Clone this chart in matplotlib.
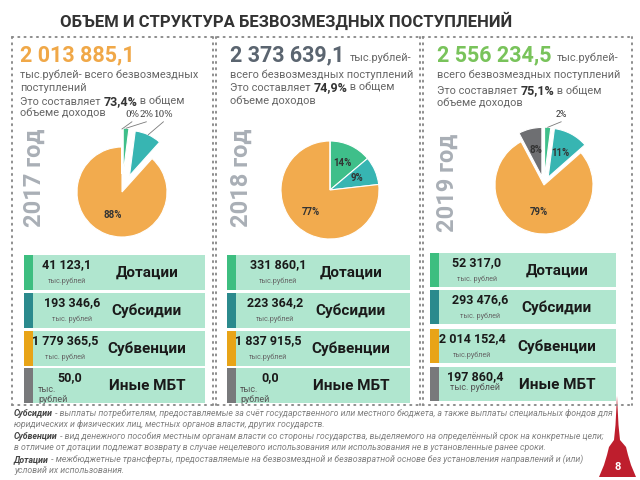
import matplotlib
matplotlib.use('Agg')
import matplotlib.pyplot as plt
from matplotlib.patches import Rectangle, Polygon
import numpy as np

plt.rcParams['font.family'] = ['Roboto', 'DejaVu Sans']

# ---------------- data ----------------
title = 'ОБЪЕМ И СТРУКТУРА БЕЗВОЗМЕЗДНЫХ ПОСТУПЛЕНИЙ'
years = ['2017 год', '2018 год', '2019 год']
totals = [2013885.1, 2373639.1, 2556234.5]
shares = ['73,4%', '74,9%', '75,1%']
categories = ['Дотации', 'Субсидии', 'Субвенции', 'Иные МБТ']
values_2017 = [41123.1, 193346.6, 1779365.5, 50.0]
values_2018 = [331860.1, 223364.2, 1837915.5, 0.0]
values_2019 = [52317.0, 293476.6, 2014152.4, 197860.4]
units_2017 = ['тыс.рублей', 'тыс. рублей', 'тыс. рублей', 'тыс.\nрублей']
units_2018 = ['тыс.рублей', 'тыс.рублей', 'тыс.рублей', 'тыс.\nрублей']
units_2019 = ['тыс. рублей', 'тыс. рублей', 'тыс.рублей', 'тыс. рублей']
notes = [
    [('Субсидии', True), (' - выплаты потребителям, предоставляемые за счёт государственного или местного бюджета, а также выплаты специальных фондов для', False)],
    [('юридических и физических лиц, местных органов власти, других государств.', False)],
    [('Субвенции', True), (' - вид денежного пособия местным органам власти со стороны государства, выделяемого на определённый срок на конкретные цели;', False)],
    [('в отличие от дотации подлежат возврату в случае нецелевого использования или использования не в установленные ранее сроки.', False)],
    [('Дотации', True), (' - межбюджетные трансферты, предоставляемые на безвозмездной и безвозвратной основе без установления направлений и (или)', False)],
    [('условий их использования.', False)],
]
page_number = '8'

# ---------------- styles ----------------
W, H = 640, 480
pie_colors = ['#3FBF8A', '#37B5B2', '#F2AB4E', '#6E6F72']
strip_colors = ['#3DBE80', '#2B8A8D', '#E8A417', '#78797B']
box_color = '#B0E6CF'
total_colors = ['#F0A848', '#5B6570', '#79C35B']
body_color = '#666666'
dot_color = '#8C8C8C'

fig = plt.figure(figsize=(6.4, 4.8), dpi=100)
bg = fig.add_axes([0, 0, 1, 1])
bg.set_xlim(0, W)
bg.set_ylim(H, 0)
bg.axis('off')
renderer = fig.canvas.get_renderer()


def fmt_num(v):
    return f'{v:,.1f}'.replace(',', ' ').replace('.', ',')


def seq_text(x, y, parts, va='baseline', style='normal'):
    out = []
    for s, size, weight, color in parts:
        t = bg.text(x, y, s, fontsize=size, fontweight=weight, color=color,
                    va=va, ha='left', fontstyle=style)
        bb = t.get_window_extent(renderer)
        x += bb.width
        out.append(t)
    return out


# title
bg.text(60, 21, title, fontsize=12, fontweight='bold', color='#333333',
        va='center', ha='left')

# dotted frame
ls = (0, (0.6, 2.6))
dk = dict(color=dot_color, lw=1.4, linestyle=ls, dash_capstyle='round')
bg.plot([12, 632], [37, 37], **dk)
bg.plot([12, 632], [405, 405], **dk)
bg.plot([12, 12], [37, 405], **dk)
bg.plot([632, 632], [37, 405], **dk)
for xd in (213, 216, 420, 423):
    bg.plot([xd, xd], [37, 405], **dk)

# headers
bs = 7.9
big = 15.5
seq_text(20, 61, [(fmt_num(totals[0]), big, 'bold', total_colors[0])])
seq_text(20, 78, [('тыс.рублей- всего безвозмездных', bs, 'normal', body_color)])
seq_text(20, 91, [('поступлений', bs, 'normal', body_color)])
seq_text(20, 105, [('Это составляет ', bs, 'normal', body_color), (shares[0], 9, 'bold', '#333333'),
                   (' в общем', bs, 'normal', body_color)])
seq_text(20, 117, [('объеме доходов', bs, 'normal', body_color)])

seq_text(230, 61, [(fmt_num(totals[1]) + ' ', big, 'bold', total_colors[1]),
                   ('тыс.рублей-', bs, 'normal', body_color)])
seq_text(230, 78, [('всего безвозмездных поступлений', bs, 'normal', body_color)])
seq_text(230, 91, [('Это составляет ', bs, 'normal', body_color), (shares[1], 9, 'bold', '#333333'),
                   (' в общем', bs, 'normal', body_color)])
seq_text(230, 104, [('объеме доходов', bs, 'normal', body_color)])

seq_text(437, 61, [(fmt_num(totals[2]) + ' ', big, 'bold', total_colors[2]),
                   ('тыс.рублей-', bs, 'normal', body_color)])
seq_text(437, 78, [('всего безвозмездных поступлений', bs, 'normal', body_color)])
seq_text(437, 94, [('Это составляет ', bs, 'normal', body_color), (shares[2], 9, 'bold', '#333333'),
                   (' в общем', bs, 'normal', body_color)])
seq_text(437, 107, [('объеме доходов', bs, 'normal', body_color)])

# year labels
for (x, y), yr in zip([(34, 178), (241, 178), (447, 183)], years):
    bg.text(x, y, yr, rotation=90, fontsize=17, fontweight='bold', color='#A9AFB6',
            ha='center', va='center')


# pies
def draw_pie(cx, cy, r, vals, explode, outside, pctd):
    L = 1.9
    ax = fig.add_axes([(cx - L * r) / W, 1 - (cy + L * r) / H, 2 * L * r / W, 2 * L * r / H])
    counter = iter(range(len(vals)))

    def fmt(p):
        i = next(counter)
        if vals[i] == 0 or i in outside:
            return ''
        return f'{p:.0f}%'

    ax.pie(vals, colors=pie_colors, explode=explode, startangle=90,
           counterclock=False, autopct=fmt, pctdistance=pctd,
           wedgeprops=dict(edgecolor='white', linewidth=0.8),
           textprops=dict(fontsize=7, fontweight='bold', color='#333333'))
    ax.set_xlim(-L, L)
    ax.set_ylim(-L, L)
    ax.set_aspect('equal')
    ax.axis('off')
    tot = float(sum(vals))
    cum = 0.0
    for i, v in enumerate(vals):
        frac = v / tot
        th = np.deg2rad(90 - 360 * (cum + frac / 2))
        cum += frac
        if i in outside:
            lx, ly, fam = outside[i]
            ex, ey = (1 + explode[i]) * np.cos(th), (1 + explode[i]) * np.sin(th)
            ax.plot([ex, lx], [ey, ly - 0.06], color='#7a7a7a', lw=0.6)
            ax.text(lx, ly, f'{100 * frac:.0f}%', fontsize=6.3, family=fam, color='#333333',
                    ha='center', va='bottom')


draw_pie(122, 192, 45, values_2017, [0.42, 0.4, 0.0, 0.4],
         {0: (0.54, 1.62, 'DejaVu Serif'), 1: (0.92, 1.62, 'DejaVu Serif'),
          3: (0.22, 1.62, 'DejaVu Serif')}, 0.55)
draw_pie(330, 190, 49, values_2018, [0, 0, 0, 0], {}, 0.6)
draw_pie(544, 185, 49, values_2019, [0.18, 0.18, 0.0, 0.18],
         {0: (0.35, 1.35, 'Roboto')}, 0.55)

# category boxes
panels = [
    dict(left=24, right=205, tops=[255, 293, 331, 368], h=35, vals=values_2017, units=units_2017,
         ncx=[67, 72, 65, 70], ccx=147, uleft=38),
    dict(left=227, right=410, tops=[255, 293, 331, 368], h=35, vals=values_2018, units=units_2018,
         ncx=[278, 275, 268, 270], ccx=351, uleft=240),
    dict(left=430, right=616, tops=[253, 290, 329, 367], h=34, vals=values_2019, units=units_2019,
         ncx=[477, 480, 472, 475], ccx=557, uleft=None),
]
for p in panels:
    for k, top in enumerate(p['tops']):
        bg.add_patch(Rectangle((p['left'], top), p['right'] - p['left'], p['h'],
                               facecolor=box_color, edgecolor='none'))
        bg.add_patch(Rectangle((p['left'], top), 9, p['h'], facecolor=strip_colors[k],
                               edgecolor='none'))
        bg.text(p['ncx'][k], top + 10, fmt_num(p['vals'][k]), fontsize=9, fontweight='bold',
                color='#1a1a1a', ha='center', va='center')
        u = p['units'][k]
        if '\n' in u:
            a, b = u.split('\n')
            bg.text(p['uleft'], top + 21, a, fontsize=6.5, color='#555555', ha='left', va='center')
            bg.text(p['uleft'], top + 31, b, fontsize=6.5, color='#555555', ha='left', va='center')
        elif k == 3:
            bg.text(p['ncx'][k], top + 21, u, fontsize=6.5, color='#555555', ha='center', va='center')
        else:
            bg.text(p['ncx'][k], top + 26, u, fontsize=5.2, color='#666666', ha='center', va='center')
        bg.text(p['ccx'], top + 18, categories[k], fontsize=11, fontweight='bold', color='#1a1a1a',
                ha='center', va='center')

# notes
note_y = [416, 427, 439, 450, 462, 473]
for y, line in zip(note_y, notes):
    seq_text(14, y, [(s, 6.3, 'bold' if b else 'normal', '#444444' if b else '#808080')
                     for s, b in line], style='italic')

# logo
logo = [(617, 396), (618.5, 425), (620, 440), (626, 447), (628, 455), (631, 465), (636, 477),
        (599, 477), (604, 465), (607, 455), (609, 447), (614, 440), (615.5, 425)]
bg.add_patch(Polygon(logo, closed=True, facecolor='#BE1E2D', edgecolor='none'))
bg.text(617.5, 467, page_number, fontsize=8, fontweight='bold', color='white', ha='center', va='center')

fig.savefig('out.png', dpi=100)
